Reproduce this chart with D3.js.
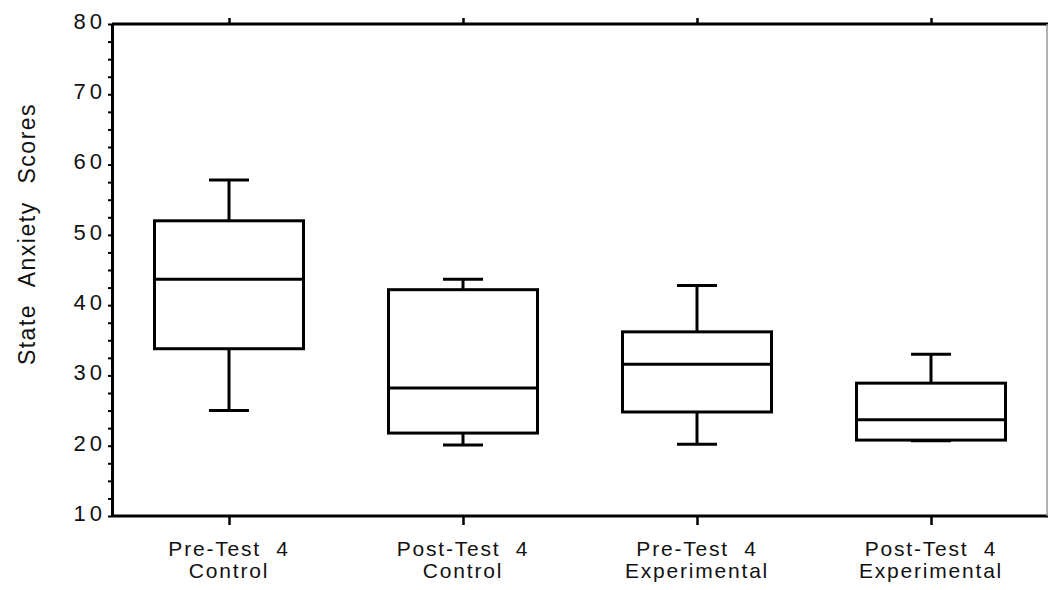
<!DOCTYPE html>
<html>
<head>
<meta charset="utf-8">
<script src="https://cdn.jsdelivr.net/npm/d3@7"></script>
<style>
  body { margin: 0; background: #fff; }
  text { font-family: "Liberation Sans", Arial, sans-serif; fill: #111; }
</style>
</head>
<body>
<div id="chart"></div>
<script>
// groups and the box stats
var groups = ["Pre-Test 4|Control", "Post-Test 4|Control", "Pre-Test 4|Experimental", "Post-Test 4|Experimental"];
var lowWhisker = [25.0, 20.1, 20.2, 20.7];
var q1Values = [33.8, 21.8, 24.8, 20.8];
var medians = [43.7, 28.2, 31.6, 23.7];
var q3Values = [52.0, 42.2, 36.2, 28.9];
var highWhisker = [57.8, 43.7, 42.8, 33.0];
var yTicks = [10, 20, 30, 40, 50, 60, 70, 80];

var margin = { top: 24, right: 1, bottom: 74, left: 112 },
    width = 1049 - margin.left - margin.right,
    height = 590 - margin.top - margin.bottom;

var data = groups.map(function(g, i) {
  return { group: g, lo: lowWhisker[i], q1: q1Values[i], med: medians[i], q3: q3Values[i], hi: highWhisker[i] };
});

var x = d3.scalePoint()
          .domain(groups)
          .range([0, width])
          .padding(0.5);

var y = d3.scaleLinear()
          .domain([10, 80])
          .range([height, 0]);

var boxW = 149, capW = 40;

var svg = d3.select("#chart").append("svg")
            .attr("width", 1049)
            .attr("height", 590)
            .append("g")
            .attr("transform", "translate(" + margin.left + "," + margin.top + ")");

// minor ticks on the y axis
svg.append("g")
  .attr("class", "y minor")
  .call(d3.axisLeft(y).tickValues(d3.range(10, 80.1, 2.5)).tickSize(4).tickFormat(""))
  .call(function(g) { g.select(".domain").remove(); })
  .selectAll("line").attr("stroke-width", 2);

// y axis with spaced digits
var yAxis = svg.append("g")
  .attr("class", "y axis")
  .call(d3.axisLeft(y).tickValues(yTicks).tickSize(0).tickPadding(6));
yAxis.select(".domain").attr("stroke-width", 3);
yAxis.selectAll("text")
  .style("font-size", "22px")
  .style("letter-spacing", "4px")
  .attr("dy", "0.2em");

// bottom axis
var xAxis = svg.append("g")
  .attr("class", "x axis")
  .attr("transform", "translate(0," + height + ")")
  .call(d3.axisBottom(x).tickSize(9).tickFormat(""));
xAxis.select(".domain").attr("stroke-width", 3).attr("d", "M0,0H" + width);
xAxis.selectAll("line").attr("stroke-width", 2.5);

// top axis, ticks pointing out
var topAxis = svg.append("g")
  .attr("class", "x axis top")
  .call(d3.axisTop(x).tickSize(6).tickFormat(""));
topAxis.select(".domain").attr("stroke-width", 3).attr("d", "M0,0H" + width);
topAxis.selectAll("line").attr("stroke-width", 2.5);

// faint right edge
svg.append("line")
  .attr("x1", width - 1).attr("x2", width - 1)
  .attr("y1", 0).attr("y2", height)
  .attr("stroke", "#999")
  .attr("stroke-width", 1.5);

// category labels, two lines
var labels = svg.append("g").attr("class", "x labels");
groups.forEach(function(g) {
  var parts = g.split("|");
  var t = labels.append("text")
    .attr("x", x(g))
    .attr("y", height + 40)
    .style("text-anchor", "middle")
    .style("font-size", "21px")
    .style("letter-spacing", "1.8px")
    .style("white-space", "pre");
  t.append("tspan").attr("x", x(g)).text(parts[0].replace(" ", "  "));
  t.append("tspan").attr("x", x(g)).attr("dy", "22px").text(parts[1]);
});

// y axis label
svg.append("text")
  .style("text-anchor", "middle")
  .style("font-size", "23px")
  .style("letter-spacing", "1.5px")
  .style("word-spacing", "10px")
  .attr("transform", "rotate(-90)")
  .attr("x", 0 - 210)
  .attr("y", 0 - 77)
  .text("State Anxiety Scores");

// boxes
var boxes = svg.selectAll(".box")
  .data(data)
  .enter().append("g")
  .attr("class", "box")
  .attr("fill", "none")
  .attr("stroke", "#000")
  .attr("stroke-width", 3);

boxes.append("line")
  .attr("x1", function(d) { return x(d.group); })
  .attr("x2", function(d) { return x(d.group); })
  .attr("y1", function(d) { return y(d.hi); })
  .attr("y2", function(d) { return y(d.q3); });

boxes.append("line")
  .attr("x1", function(d) { return x(d.group); })
  .attr("x2", function(d) { return x(d.group); })
  .attr("y1", function(d) { return y(d.q1); })
  .attr("y2", function(d) { return y(d.lo); });

boxes.append("line")
  .attr("x1", function(d) { return x(d.group) - capW / 2; })
  .attr("x2", function(d) { return x(d.group) + capW / 2; })
  .attr("y1", function(d) { return y(d.hi); })
  .attr("y2", function(d) { return y(d.hi); });

boxes.append("line")
  .attr("x1", function(d) { return x(d.group) - capW / 2; })
  .attr("x2", function(d) { return x(d.group) + capW / 2; })
  .attr("y1", function(d) { return y(d.lo); })
  .attr("y2", function(d) { return y(d.lo); });

boxes.append("rect")
  .attr("x", function(d) { return x(d.group) - boxW / 2; })
  .attr("width", boxW)
  .attr("y", function(d) { return y(d.q3); })
  .attr("height", function(d) { return y(d.q1) - y(d.q3); })
  .attr("fill", "#fff");

boxes.append("line")
  .attr("x1", function(d) { return x(d.group) - boxW / 2; })
  .attr("x2", function(d) { return x(d.group) + boxW / 2; })
  .attr("y1", function(d) { return y(d.med); })
  .attr("y2", function(d) { return y(d.med); });
</script>
</body>
</html>
